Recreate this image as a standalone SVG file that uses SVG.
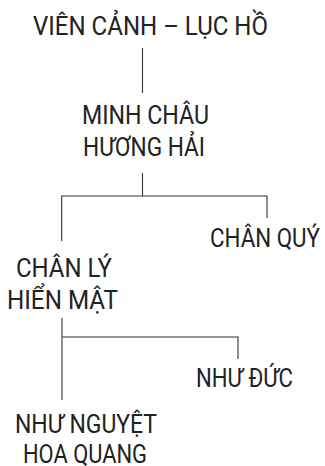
<svg xmlns="http://www.w3.org/2000/svg" width="325" height="466" viewBox="0 0 325 466">
<style>
text{font-family:Roboto,"Liberation Sans",sans-serif;font-size:26px;fill:#222}
.c{stroke:#333;stroke-width:1.1;fill:none}
</style>
<rect width="325" height="466" fill="#fff"/>
<g id="connectors">
<path class="c" d="M142.5 48V93"/>
<path class="c" d="M142.5 173V196M61.7 241V196H267V218"/>
<path class="c" d="M62 318V400M62 337H238V359"/>
</g>
<g id="n1"><text x="33" y="35" textLength="235" lengthAdjust="spacingAndGlyphs">VIÊN CẢNH – LỤC HỒ</text></g>
<g id="n2"><text x="82" y="124" textLength="127" lengthAdjust="spacingAndGlyphs">MINH CHÂU</text><text x="83" y="156" textLength="122" lengthAdjust="spacingAndGlyphs">HƯƠNG HẢI</text></g>
<g id="n3"><text x="210" y="247" textLength="110" lengthAdjust="spacingAndGlyphs">CHÂN QUÝ</text></g>
<g id="n4"><text x="16" y="277" textLength="96" lengthAdjust="spacingAndGlyphs">CHÂN LÝ</text><text x="7" y="309" textLength="111" lengthAdjust="spacingAndGlyphs">HIỂN MẬT</text></g>
<g id="n5"><text x="196" y="387" textLength="97" lengthAdjust="spacingAndGlyphs">NHƯ ĐỨC</text></g>
<g id="n6"><text x="15" y="433" textLength="142" lengthAdjust="spacingAndGlyphs">NHƯ NGUYỆT</text><text x="23" y="463" textLength="124" lengthAdjust="spacingAndGlyphs">HOA QUANG</text></g>
</svg>
